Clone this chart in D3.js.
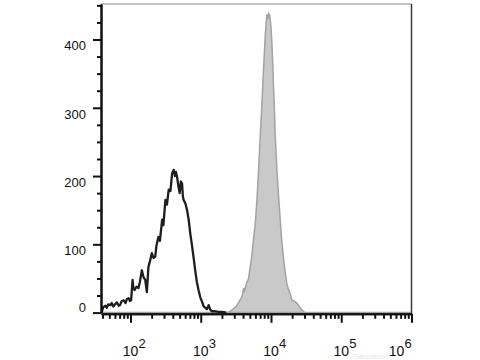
<!DOCTYPE html>
<html>
<head>
<meta charset="utf-8">
<script src="https://cdn.jsdelivr.net/npm/d3@7"></script>
<style>
  body { margin: 0; background: #fff; }
  text { font-family: "Liberation Sans", Arial, sans-serif; }
</style>
</head>
<body>
<div id="canvas"></div>
<script>
// unstained / isotype control (black open line)
const ctrlInt = [39, 40, 41, 44, 46, 48, 52, 54, 57, 60, 64, 68, 71, 75, 80, 85, 89, 94, 98, 102,
  107, 110, 114, 122, 130, 136, 145, 153, 162, 171, 180, 189, 201, 212, 225, 234, 250, 262, 282, 294,
  314, 330, 350, 370, 391, 412, 429, 443, 460, 481, 501, 521, 542, 557, 571, 604, 639, 673, 711, 747,
  792, 838, 880, 934, 987, 1043, 1099, 1162, 1221, 1295, 1368, 1446, 1559, 1778, 2027, 2311];
const ctrlCount = [0, 5, 8, 10, 7, 12, 11, 14, 9, 12, 15, 10, 11, 17, 18, 14, 20, 21, 17, 18,
  48, 36, 33, 38, 36, 45, 62, 52, 48, 30, 67, 75, 87, 80, 82, 98, 111, 105, 136, 128,
  165, 158, 180, 178, 204, 209, 200, 206, 199, 185, 175, 192, 189, 170, 165, 160, 150, 136, 115, 100,
  80, 60, 45, 32, 22, 16, 9, 7, 5, 11, 4, 2, 2, 1, 1, 0];

// stained sample (grey filled)
const stainInt = [2311, 2491, 2720, 2933, 3205, 3455, 3652, 3861, 4068, 4191, 4303, 4549, 4791, 5066,
  5355, 5643, 5966, 6307, 6646, 7026, 7428, 7827, 8275, 8549, 8746, 8980, 9276, 9589, 9970, 10303,
  10644, 10849, 11092, 11466, 12122, 12773, 13503, 13960, 14564, 15050, 15910, 16820, 17723, 18738,
  19812, 20876, 22072, 23337, 24592, 26001, 27490, 28965, 30627];
const stainCount = [0, 1, 3, 6, 9, 15, 19, 23, 36, 32, 36, 45, 50, 67,
  85, 108, 130, 165, 208, 258, 306, 356, 405, 425, 437, 430, 438, 436, 420, 394,
  360, 330, 310, 260, 210, 172, 138, 115, 95, 80, 60, 42, 34, 28,
  19, 17, 16, 14, 11, 7, 4, 2, 0];

const yMajor = [0, 100, 200, 300, 400];
const yMinor = [25, 50, 75, 125, 150, 175, 225, 250, 275, 325, 350, 375, 425, 450];
const xExp = [2, 3, 4, 5, 6];

const width = 480, height = 360;
const plotL = 101, plotR = 411.5, plotT = 4, plotB = 312.6;
const xMin = Math.pow(10, 1.58), xMax = 1e6;

const x = d3.scaleLog().domain([xMin, xMax]).range([plotL, plotR]);
const y = d3.scaleLinear().domain([0, 452]).range([plotB, plotT]);

const svg = d3.select("#canvas").append("svg")
    .attr("width", width)
    .attr("height", height);

// grey filled histogram, padded with zeros so its baseline spans the plot
const stain = [{v: xMin, c: 0}]
    .concat(stainInt.map((v, i) => ({v: v, c: stainCount[i]})))
    .concat([{v: xMax, c: 0}]);

svg.append("path")
    .datum(stain)
    .attr("fill", "#c9c9c9")
    .attr("stroke", "#a3a3a3")
    .attr("stroke-width", 1.5)
    .attr("d", d3.area()
        .x(d => x(d.v))
        .y0(y(0))
        .y1(d => y(d.c)));

const ctrl = ctrlInt.map((v, i) => ({v: v, c: ctrlCount[i]}));
svg.append("path")
    .datum(ctrl)
    .attr("fill", "none")
    .attr("stroke", "#1e1e1e")
    .attr("stroke-width", 2.3)
    .attr("stroke-linejoin", "round")
    .attr("d", d3.line()
        .x(d => x(d.v))
        .y(d => y(d.c)));

// frame: top and right
svg.append("line")
    .attr("x1", plotL).attr("x2", plotR)
    .attr("y1", plotT).attr("y2", plotT)
    .attr("stroke", "#8a8a8a").attr("stroke-width", 1);
svg.append("line")
    .attr("x1", plotR).attr("x2", plotR)
    .attr("y1", plotT).attr("y2", plotB + 1)
    .attr("stroke", "#3a3a3a").attr("stroke-width", 1.5);

// x minor ticks
let xMinorVals = [];
for (let e = 1; e < 6; e++) {
  for (let m = 2; m <= 9; m++) {
    const v = m * Math.pow(10, e);
    if (v >= xMin && v <= xMax) xMinorVals.push(v);
  }
}
const axisY = plotB + 1.2;

const gxMinor = svg.append("g")
    .attr("transform", `translate(0,${axisY})`)
    .call(d3.axisBottom(x).tickValues(xMinorVals).tickSize(5).tickSizeOuter(0).tickFormat(""));
const gxMajor = svg.append("g")
    .attr("transform", `translate(0,${axisY})`)
    .call(d3.axisBottom(x).tickValues(xExp.map(e => Math.pow(10, e))).tickSize(9).tickSizeOuter(0).tickFormat(""));
[gxMinor, gxMajor].forEach(g => {
  g.selectAll(".tick line").attr("stroke", "#111").attr("stroke-width", 2);
  g.select(".domain").attr("stroke", "#111").attr("stroke-width", 2);
});

// x labels as 10^n
const xl = svg.append("g").selectAll("g")
    .data(xExp)
    .join("g")
    .attr("transform", d => `translate(${x(Math.pow(10, d)) + (d === 6 ? -15 : 0)},356)`);
xl.append("text")
    .attr("text-anchor", "middle")
    .attr("font-size", 14)
    .attr("fill", "#111")
    .text("10");
xl.append("text")
    .attr("x", 8)
    .attr("y", -8)
    .attr("font-size", 13)
    .attr("fill", "#111")
    .text(d => d);

// y axis
const gyMinor = svg.append("g")
    .attr("transform", `translate(${plotL},0)`)
    .call(d3.axisLeft(y).tickValues(yMinor).tickSize(4).tickSizeOuter(0).tickFormat(""));
const gyMajor = svg.append("g")
    .attr("transform", `translate(${plotL},0)`)
    .call(d3.axisLeft(y).tickValues(yMajor).tickSize(8).tickSizeOuter(0).tickPadding(7));
[gyMinor, gyMajor].forEach(g => {
  g.selectAll(".tick line").attr("stroke", "#111").attr("stroke-width", 2);
  g.select(".domain").attr("stroke", "#111").attr("stroke-width", 2);
});
gyMajor.selectAll(".tick text")
    .attr("font-family", "Liberation Sans, Arial, sans-serif")
    .attr("font-size", 13)
    .attr("fill", "#111")
    .attr("dy", d => d === 0 ? "-0.05em" : "0.8em");

// faint watermark, squeezed between the 10^5 and 10^6 labels
svg.append("text")
    .attr("x", 370).attr("y", 358.5)
    .attr("text-anchor", "middle")
    .attr("font-size", 6.5)
    .attr("fill", "#e6e6e6")
    .text("Elabscience");
</script>
</body>
</html>
